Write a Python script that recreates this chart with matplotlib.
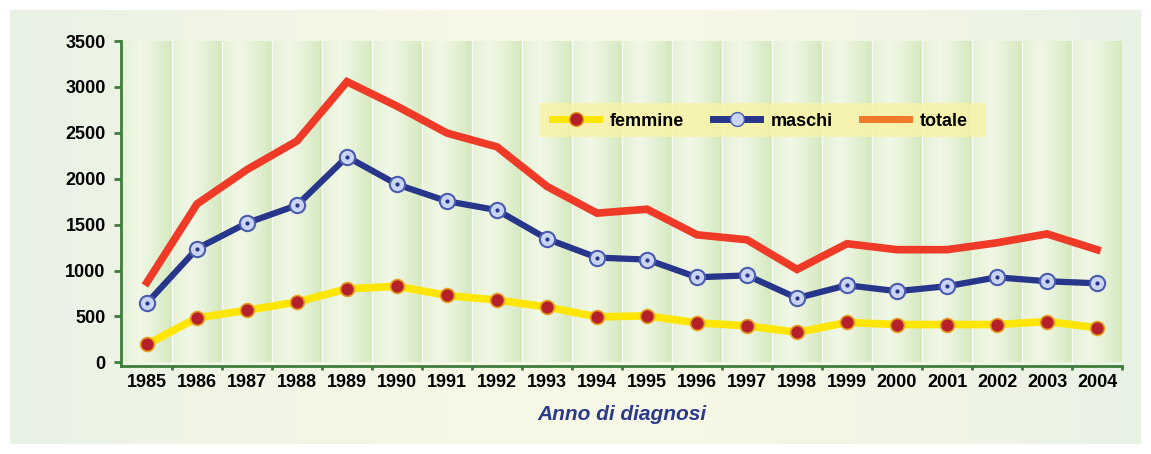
import numpy as np
import matplotlib
matplotlib.use("Agg")
from matplotlib import pyplot as plt
from matplotlib.lines import Line2D
from matplotlib.patches import Rectangle

anni = list(range(1985, 2005))
femmine = [197, 484, 567, 657, 800, 829, 728, 678, 603, 495, 506, 430, 398, 326, 434, 412, 412, 412, 444, 377]
maschi = [646, 1238, 1518, 1711, 2239, 1938, 1755, 1658, 1345, 1141, 1119, 926, 947, 700, 840, 775, 829, 926, 883, 861]
totale = [872, 1725, 2099, 2411, 3057, 2790, 2497, 2347, 1916, 1625, 1668, 1389, 1335, 1012, 1292, 1227, 1227, 1302, 1399, 1227]

plt.rcParams['font.family'] = ['Liberation Sans Narrow', 'Liberation Sans', 'DejaVu Sans']

fig = plt.figure(figsize=(11.51, 4.54), dpi=100)

# sfondo esterno sfumato
bg = fig.add_axes([0, 0, 1, 1], zorder=-10)
t = np.linspace(0, 1, 300)
c1 = np.array([0.91, 0.95, 0.90])
c2 = np.array([0.97, 0.97, 0.90])
w = np.sin(np.pi * t)[:, None]
grad = c1 * (1 - w) + c2 * w
bg.imshow(grad[None, :, :], aspect='auto', extent=[10 / 1151, 1141 / 1151, 10 / 454, 444 / 454])
bg.set_xlim(0, 1)
bg.set_ylim(0, 1)
bg.axis('off')

ax = fig.add_axes([121 / 1151, 1 - 366 / 454, 1001 / 1151, 325 / 454])
ax.set_facecolor('none')

# colonne a strisce
light = np.array([0.94, 0.97, 0.90])
dark = np.array([0.83, 0.91, 0.74])
xs = np.linspace(0, 1, 100)
k = (np.abs(xs - 0.35) / 0.65) ** 1.3
col = light * (1 - k[:, None]) + dark * k[:, None]
for i in range(21):
    x0 = 1984.5 + i - 1
    ax.imshow(col[None, :, :], aspect='auto', extent=[x0, x0 + 1, 0, 3500], zorder=0)
    ax.axvline(x0, color='white', lw=1, alpha=0.8, zorder=0.5)
ax.set_xlim(1984.48, 2004.5)
ax.set_ylim(-40, 3500)

ax.plot(anni, totale, color='#ee3a26', lw=5.5, solid_joinstyle='miter', zorder=3)
ax.plot(anni, maschi, color='#27358a', lw=4.5, zorder=4,
        marker='o', ms=11, mfc='#c9d5f2', mec='#4a5bb0', mew=1.5)
ax.plot(anni, maschi, ls='none', marker='o', ms=2, color='#27358a', zorder=5)
ax.plot(anni, femmine, color='#ffe600', lw=5.5, zorder=4,
        marker='o', ms=10, mfc='#b5202a', mec='#e8a020', mew=1.2)

for s in ['top', 'right']:
    ax.spines[s].set_visible(False)
ax.spines['left'].set_color('#3c7d3c')
ax.spines['bottom'].set_color('#3c7d3c')
ax.spines['left'].set_linewidth(2)
ax.spines['bottom'].set_linewidth(2)
ax.spines['bottom'].set_position(('data', -40))

ax.set_yticks(range(0, 3501, 500))
ax.set_yticklabels([str(v) for v in range(0, 3501, 500)], fontsize=13, fontweight='bold')
ax.set_xticks(anni)
ax.set_xticklabels([str(a) for a in anni], fontsize=13, fontweight='bold')
ax.tick_params(axis='x', length=0, pad=6)
ax.set_xticks(np.arange(1985.5, 2004.6, 1), minor=True)
ax.tick_params(axis='x', which='minor', length=3, width=2, color='#3c7d3c')
ax.tick_params(axis='y', length=5, width=2, color='#3c7d3c', pad=6)

ax.set_xlabel('Anno di diagnosi', fontsize=15, fontweight='bold', style='italic',
              color='#2b3a8c', family=['Liberation Sans', 'DejaVu Sans'], labelpad=10)

# legenda
fig.patches.append(Rectangle((540 / 1151, 1 - 137 / 454), 446 / 1151, 34 / 454,
                             transform=fig.transFigure, facecolor='#f8f3a8', alpha=0.85,
                             edgecolor='none', zorder=5))
handles = [
    Line2D([], [], color='#ffe600', lw=5, marker='o', ms=10, mfc='#b5202a', mec='#e8a020'),
    Line2D([], [], color='#27358a', lw=5, marker='o', ms=10, mfc='#c9d5f2', mec='#4a5bb0'),
    Line2D([], [], color='#f07a28', lw=5),
]
leg = fig.legend(handles, ['femmine', 'maschi', 'totale'], loc='center',
                 bbox_to_anchor=(760 / 1151, 1 - 121 / 454), ncol=3, frameon=False,
                 prop={'size': 13, 'weight': 'bold'}, handlelength=2.6, columnspacing=1.6,
                 handletextpad=0.6)
leg.set_zorder(6)

fig.savefig('out.png', dpi=100)
